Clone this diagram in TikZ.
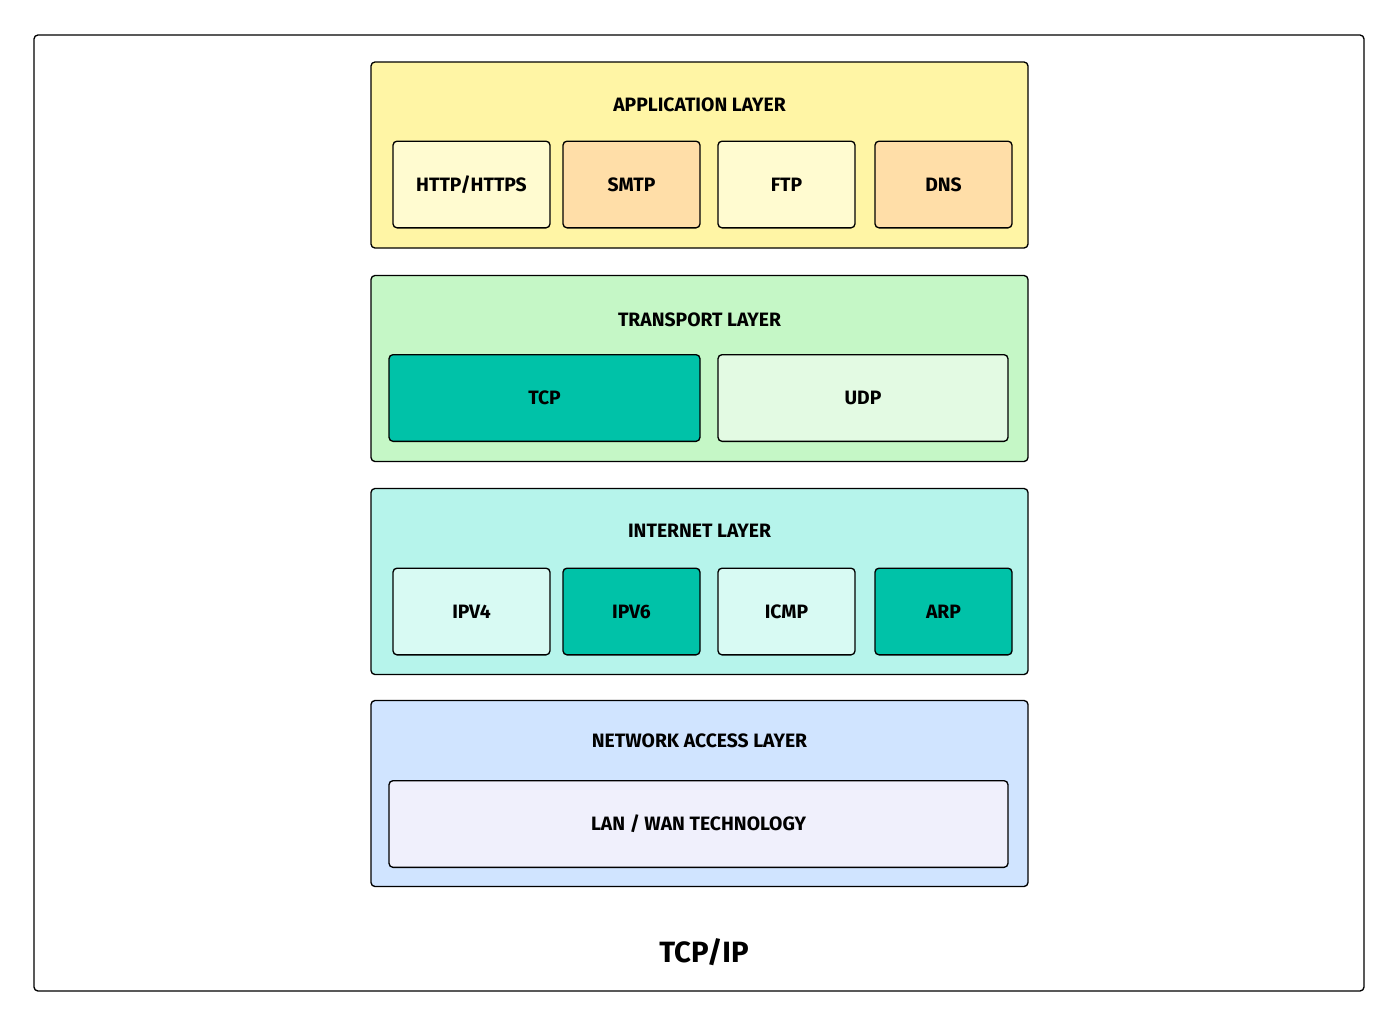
\documentclass[tikz,border=0pt]{standalone}
\usepackage{fontspec}
\setmainfont{Fira Sans}

\tikzset{every picture/.style={line width=0.75pt}}
\tikzset{
  layerbox/.style={draw, line width=1pt, rounded corners=3pt, minimum width=492.75pt, minimum height=139.5pt},
  protobox/.style={draw, line width=1pt, rounded corners=3pt, minimum height=65pt, font=\fontsize{14.5}{17}\selectfont\bfseries},
  layertitle/.style={font=\fontsize{14.5}{17}\selectfont\bfseries}
}

\begin{document}
\begin{tikzpicture}[x=0.75pt,y=0.75pt,yscale=-1,xscale=1]
	\useasboundingbox (0,0) rectangle (1400,1025);
	\fill[white] (0,0) rectangle (1400,1025);

	%Shape: Rounded Rect [frame]
	\draw [line width=1pt, rounded corners=3pt] (34,35) rectangle (1364,991) ;

	%Shape: Layers
	\node [layerbox, fill={rgb, 255:red, 255; green, 245; blue, 165 }] (app) at (699.5,155) {};
	\node [layerbox, fill={rgb, 255:red, 197; green, 247; blue, 198 }] (trans) at (699.5,368.5) {};
	\node [layerbox, fill={rgb, 255:red, 182; green, 244; blue, 235 }] (inet) at (699.5,581.5) {};
	\node [layerbox, fill={rgb, 255:red, 208; green, 228; blue, 255 }] (netacc) at (699.5,793.5) {};

	% Text Node
	\node [layertitle] (apptitle) at (699.5,105) {APPLICATION LAYER};
	% Text Node
	\node [layertitle] (transtitle) at (699.5,320) {TRANSPORT LAYER};
	% Text Node
	\node [layertitle] (inettitle) at (699.5,531) {INTERNET LAYER};
	% Text Node
	\node [layertitle] (netacctitle) at (699.5,741) {NETWORK ACCESS LAYER};

	%Shape: Application protocols
	\node [protobox, minimum width=117.75pt, fill={rgb, 255:red, 255; green, 251; blue, 208 }] (http) at (471.5,184.5) {HTTP/HTTPS};
	\node [protobox, minimum width=102.75pt, fill={rgb, 255:red, 255; green, 222; blue, 168 }] (smtp) at (631.5,184.5) {SMTP};
	\node [protobox, minimum width=102.75pt, fill={rgb, 255:red, 255; green, 251; blue, 208 }] (ftp) at (786.5,184.5) {FTP};
	\node [protobox, minimum width=102.75pt, fill={rgb, 255:red, 255; green, 222; blue, 168 }] (dns) at (943.5,184.5) {DNS};

	%Shape: Transport protocols
	\node [protobox, minimum width=233.25pt, fill={rgb, 255:red, 0; green, 194; blue, 168 }] (tcp) at (544.5,398) {TCP};
	\node [protobox, minimum width=217.5pt, fill={rgb, 255:red, 227; green, 250; blue, 227 }] (udp) at (863,398) {UDP};

	%Shape: Internet protocols
	\node [protobox, minimum width=117.75pt, fill={rgb, 255:red, 216; green, 250; blue, 243 }] (ipv4) at (471.5,611.5) {IPV4};
	\node [protobox, minimum width=102.75pt, fill={rgb, 255:red, 0; green, 194; blue, 168 }] (ipv6) at (631.5,611.5) {IPV6};
	\node [protobox, minimum width=102.75pt, fill={rgb, 255:red, 216; green, 250; blue, 243 }] (icmp) at (786.5,611.5) {ICMP};
	\node [protobox, minimum width=102.75pt, fill={rgb, 255:red, 0; green, 194; blue, 168 }] (arp) at (943.5,611.5) {ARP};

	%Shape: Network access
	\node [protobox, minimum width=464.25pt, fill={rgb, 255:red, 240; green, 240; blue, 252 }] (lanwan) at (698.5,824) {LAN / WAN TECHNOLOGY};

	% Text Node
	\node [font=\fontsize{22}{26}\selectfont\bfseries] (tcpip) at (704,952) {TCP/IP};

\end{tikzpicture}
\end{document}
